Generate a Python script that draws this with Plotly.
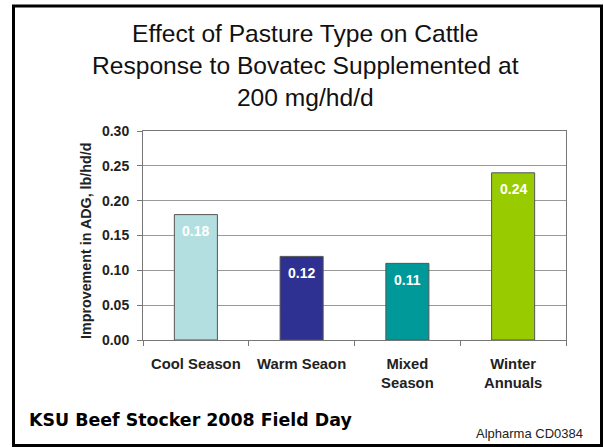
import plotly.graph_objects as go

# Pasture types and the improvement in average daily gain (lb/hd/d)
categories = ["Cool Season", "Warm Seaon", "Mixed<br>Season", "Winter<br>Annuals"]
improvement = [0.18, 0.12, 0.11, 0.24]
bar_colors = ["#B3DFE0", "#2E3192", "#009999", "#99CC00"]
y_ticks = [0.00, 0.05, 0.10, 0.15, 0.20, 0.25, 0.30]

W, H = 604, 447
L, R, T, B = 143, 38, 131, 107
pw, ph = W - L - R, H - T - B


def px(x):
    return (x - L) / pw


def py(y):
    return (H - B - y) / ph


fig = go.Figure()
fig.add_trace(go.Bar(
    x=categories,
    y=improvement,
    marker=dict(color=bar_colors, line=dict(color="#555555", width=1)),
    hoverinfo="skip",
))

# value labels inside the top of each bar
for cat, val in zip(categories, improvement):
    fig.add_annotation(
        x=cat, y=val, xref="x", yref="y",
        text=f"<b>{val:.2f}</b>", showarrow=False,
        yanchor="middle", yshift=-16.5,
        font=dict(family="Liberation Sans, Arial", size=14, color="white"),
    )

font = "Liberation Sans, Arial, sans-serif"

fig.update_layout(
    width=W, height=H,
    margin=dict(l=L, r=R, t=T, b=B, pad=0),
    paper_bgcolor="white", plot_bgcolor="white",
    showlegend=False,
    bargap=0.593,
    font=dict(family=font, color="black"),
    xaxis=dict(
        type="category",
        tickson="boundaries",
        ticks="outside", ticklen=5, tickcolor="#777777",
        showline=True, linecolor="#777777", linewidth=1, mirror=True,
        showgrid=False,
        tickfont=dict(family=font, size=14.8, color="#222222", weight="bold"),
        ticklabelstandoff=10,
    ),
    yaxis=dict(
        range=[0, 0.30],
        tickvals=y_ticks,
        ticktext=[f"{v:.2f}" for v in y_ticks],
        ticks="outside", ticklen=5, tickcolor="#777777",
        showline=True, linecolor="#777777", linewidth=1, mirror=True,
        showgrid=True, gridcolor="#999999", gridwidth=1,
        zeroline=False,
        tickfont=dict(family=font, size=14, color="#222222", weight="bold"),
        ticklabelstandoff=5,
    ),
)

# chart title
fig.add_annotation(
    xref="paper", yref="paper", x=px(305), y=py(65.5),
    xanchor="center", yanchor="middle", showarrow=False,
    text="Effect of Pasture Type on Cattle<br>Response to Bovatec Supplemented at<br>200 mg/hd/d",
    font=dict(family=font, size=24.6, color="#111111"),
)

# y-axis title
fig.add_annotation(
    xref="paper", yref="paper", x=px(86), y=py(241),
    xanchor="center", yanchor="middle", showarrow=False, textangle=-90,
    text="<b>Improvement in ADG, lb/hd/d</b>",
    font=dict(family=font, size=14.3, color="#222222"),
)

# footer texts
fig.add_annotation(
    xref="paper", yref="paper", x=px(27), y=py(420),
    xanchor="left", yanchor="middle", showarrow=False,
    text="<b>KSU Beef Stocker 2008 Field Day</b>",
    font=dict(family="DejaVu Sans, Verdana, sans-serif", size=17.4, color="black"),
)
fig.add_annotation(
    xref="paper", yref="paper", x=px(585), y=py(433),
    xanchor="right", yanchor="middle", showarrow=False,
    text="Alpharma CD0384",
    font=dict(family=font, size=13, color="#222222"),
)

# black frame around the slide
fig.add_shape(
    type="rect", xref="paper", yref="paper",
    x0=px(13.5), x1=px(601.5), y0=py(445.5), y1=py(6),
    line=dict(color="black", width=3), fillcolor="rgba(0,0,0,0)",
    layer="above",
)

fig.write_html("out.html")
